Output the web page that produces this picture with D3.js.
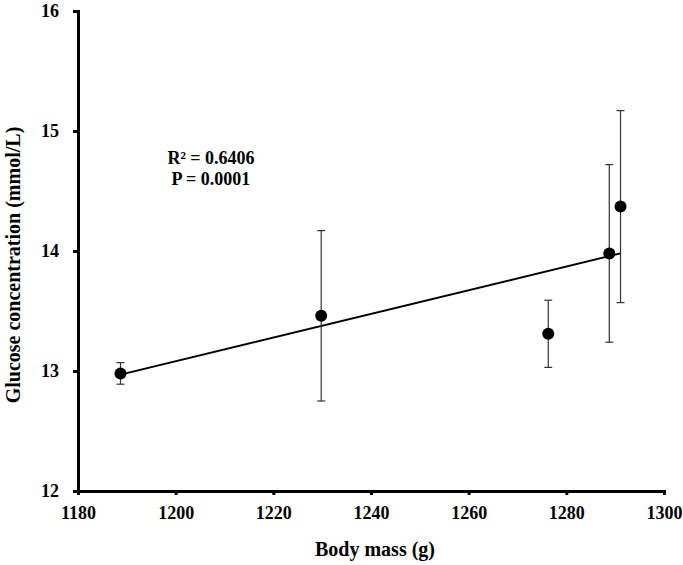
<!DOCTYPE html>
<html>
<head>
<meta charset="utf-8">
<script src="https://cdn.jsdelivr.net/npm/d3@7"></script>
<style>
  body { margin: 0; background: #fff; }
  text { font-family: "Liberation Serif", "Times New Roman", serif; font-weight: bold; fill: #000; }
</style>
</head>
<body>
<svg id="chart" width="683" height="565"></svg>
<script>
// body mass (g) vs glucose (mmol/L)
const bodyMass = [1188.7, 1229.8, 1276.3, 1288.8, 1291.1]
const glucose = [12.98, 13.46, 13.31, 13.98, 14.37]
const glucoseErr = [0.09, 0.71, 0.28, 0.74, 0.80]

// fitted line ends
const trendMass = [1188.7, 1291.1]
const trendGlucose = [12.97, 13.98]

const xTicks = [1180, 1200, 1220, 1240, 1260, 1280, 1300]
const yTicks = [12, 13, 14, 15, 16]
const statLines = ['R\u00B2 = 0.6406', 'P = 0.0001']

const margin = { top: 11, left: 78, right: 19, bottom: 74 }
const width = 683 - margin.left - margin.right
const height = 565 - margin.top - margin.bottom

const svg = d3.select('#chart')
const chart = svg.append('g')
    .attr('transform', `translate(${margin.left},${margin.top})`)

const x = d3.scaleLinear().domain([1180, 1300]).range([0, width])
const y = d3.scaleLinear().domain([12, 16]).range([height, 0])

const points = bodyMass.map((m, i) => ({ x: m, y: glucose[i], e: glucoseErr[i] }))

// axes
const xAxisG = chart.append('g')
    .attr('transform', `translate(0,${height})`)
    .call(d3.axisBottom(x).tickValues(xTicks).tickFormat(d3.format('d')).tickSize(4).tickPadding(11))
const yAxisG = chart.append('g')
    .call(d3.axisLeft(y).tickValues(yTicks).tickFormat(d3.format('d')).tickSize(5).tickPadding(14))

for (const g of [xAxisG, yAxisG]) {
    g.attr('font-family', '"Liberation Serif", serif')
        .attr('font-size', 18)
        .attr('font-weight', 'bold')
    g.select('.domain').attr('stroke', '#000').attr('stroke-width', 3)
    g.selectAll('.tick line').attr('stroke', '#000').attr('stroke-width', 3)
    g.selectAll('.tick text').attr('fill', '#000')
}

// trend line
const line = d3.line().x(d => x(d[0])).y(d => y(d[1]))
chart.append('path')
    .attr('d', line(trendMass.map((m, i) => [m, trendGlucose[i]])))
    .attr('stroke', '#000')
    .attr('stroke-width', 2)
    .attr('fill', 'none')

// error bars
const err = chart.selectAll('.err')
    .data(points)
    .join('g')
        .attr('class', 'err')
        .attr('stroke', '#333')
        .attr('stroke-width', 1.2)
err.append('line')
    .attr('x1', d => x(d.x)).attr('x2', d => x(d.x))
    .attr('y1', d => y(d.y + d.e)).attr('y2', d => y(d.y - d.e))
err.append('line')
    .attr('x1', d => x(d.x) - 4).attr('x2', d => x(d.x) + 4)
    .attr('y1', d => y(d.y + d.e)).attr('y2', d => y(d.y + d.e))
err.append('line')
    .attr('x1', d => x(d.x) - 4).attr('x2', d => x(d.x) + 4)
    .attr('y1', d => y(d.y - d.e)).attr('y2', d => y(d.y - d.e))

chart.selectAll('circle')
    .data(points)
    .join('circle')
        .attr('cx', d => x(d.x))
        .attr('cy', d => y(d.y))
        .attr('r', 6)
        .attr('fill', '#000')

// stats text
svg.append('text')
    .attr('x', 211)
    .attr('y', 164)
    .attr('text-anchor', 'middle')
    .style('font-size', '18px')
    .selectAll('tspan')
    .data(statLines)
    .join('tspan')
        .attr('x', 211)
        .attr('dy', (d, i) => i === 0 ? 0 : 21)
        .text(d => d)

// axis titles
svg.append('text')
    .attr('x', margin.left + width / 2 + 4)
    .attr('y', 556)
    .attr('text-anchor', 'middle')
    .style('font-size', '20px')
    .text('Body mass (g)')

svg.append('text')
    .attr('transform', 'translate(20,265) rotate(-90)')
    .attr('text-anchor', 'middle')
    .style('font-size', '20px')
    .text('Glucose concentration (mmol/L)')
</script>
</body>
</html>
